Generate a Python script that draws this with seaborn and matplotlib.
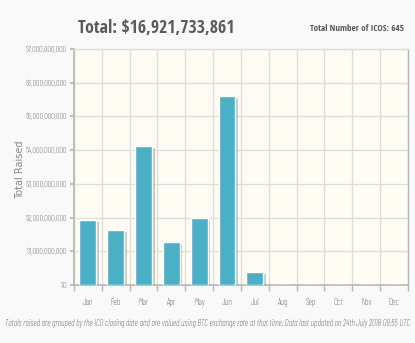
import matplotlib
matplotlib.use("Agg")
import matplotlib.pyplot as plt
import matplotlib.patheffects as pe
from matplotlib.ticker import FuncFormatter, FixedLocator
import seaborn as sns
import pandas as pd

months = ["Jan", "Feb", "Mar", "Apr", "May", "Jun", "Jul", "Aug", "Sep", "Oct", "Nov", "Dec"]
raised = [1.93e9, 1.63e9, 4.13e9, 1.27e9, 1.98e9, 5.60e9, 0.38e9, 0, 0, 0, 0, 0]
yticks = [0, 1e9, 2e9, 3e9, 4e9, 5e9, 6e9, 7e9]
title = "Total: $16,921,733,861"
subtitle = "Total Number of ICOS: 645"
footnote = ("Totals raised are grouped by the ICO closing date and are valued using BTC exchange rate "
            "at that time. Data last updated on 24th July 2018 09:55 UTC")

sns.set_theme(style="white")
BOLD = ['Open Sans Condensed', 'Barlow Condensed', 'DejaVu Sans']
LIGHT = ['Open Sans Condensed Light', 'Barlow Condensed', 'Asap Condensed', 'DejaVu Sans']
plt.rcParams['font.family'] = LIGHT

df = pd.DataFrame({"month": months, "raised": raised})

fig = plt.figure(figsize=(4.15, 3.43), dpi=100, facecolor="#f9f9f9")
ax = fig.add_axes([0.178, 0.169, 0.805, 0.688])
ax.set_facecolor("#fffcf3")

sns.barplot(data=df, x="month", y="raised", color="#4bb0c6", saturation=1, width=0.6,
            ax=ax, zorder=3)
for p in ax.patches:
    p.set_path_effects([pe.SimplePatchShadow(offset=(2, -1.5), shadow_rgbFace="#888888", alpha=0.45),
                        pe.Normal()])

ax.set_ylim(0, 7e9)
ax.set_xlim(-0.5, 11.5)
ax.yaxis.set_major_locator(FixedLocator(yticks))
ax.yaxis.set_major_formatter(FuncFormatter(lambda v, _: "${:,.0f}".format(v)))
ax.xaxis.set_minor_locator(FixedLocator([i + 0.5 for i in range(-1, 12)]))
ax.grid(True, axis="y", color="#dcdcdc", linewidth=0.9, zorder=0)
ax.grid(True, axis="x", which="minor", color="#dcdcdc", linewidth=0.9, zorder=0)
ax.set_axisbelow(True)

for s in ["left", "bottom", "right", "top"]:
    ax.spines[s].set_visible(True)
    ax.spines[s].set_color("#b5b5b5")
    ax.spines[s].set_linewidth(1.0)
ax.spines["left"].set_linewidth(1.2)
ax.spines["bottom"].set_linewidth(1.2)
ax.spines["top"].set_color("#dcdcdc")

ax.tick_params(axis="y", which="major", length=3, color="#b5b5b5", labelsize=5.8, labelcolor="#333333", pad=2, left=True)
ax.tick_params(axis="x", which="major", length=0, labelsize=6.3, labelcolor="#333333", pad=9)
ax.tick_params(axis="x", which="minor", length=4, color="#b5b5b5", bottom=True)
for t in ax.get_yticklabels() + ax.get_xticklabels():
    t.set_fontweight("light")

ax.set_xlabel("")
ax.set_ylabel("Total Raised", fontsize=7, color="#888888", family=["DejaVu Sans"])
ax.yaxis.set_label_coords(-0.145, 0.49)

fig.text(0.188, 0.918, title, fontsize=12.8, fontweight="bold", color="#5a5a5a", va="center", ha="left",
         family=BOLD)
fig.text(0.973, 0.918, subtitle, fontsize=6.5, fontweight="bold", color="#555555", va="center", ha="right",
         family=BOLD)
fig.text(0.5, 0.058, footnote, fontsize=6.2, style="italic", fontweight="light", color="#333333",
         va="center", ha="center")

fig.savefig("out.png", dpi=100, facecolor=fig.get_facecolor())
